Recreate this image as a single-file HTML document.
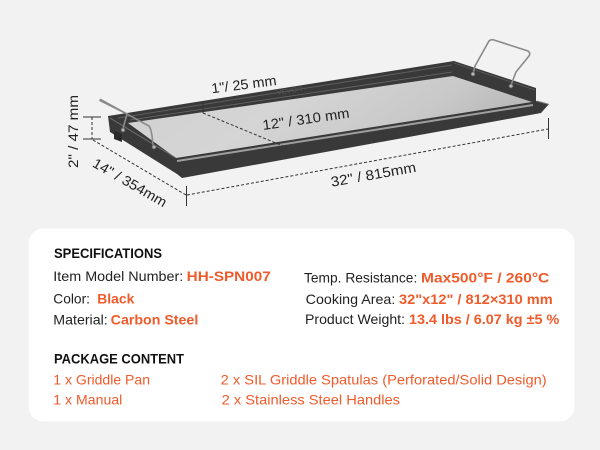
<!DOCTYPE html>
<html><head><meta charset="utf-8"><style>
html,body{margin:0;padding:0;width:600px;height:450px;overflow:hidden;background:#f2f2f2}
svg{display:block}
text{font-family:"Liberation Sans",Arial,sans-serif}
</style></head><body>
<svg width="600" height="450" viewBox="0 0 600 450" xmlns="http://www.w3.org/2000/svg">
<defs>
<linearGradient id="surf" x1="0" y1="0" x2="1" y2="0.3">
 <stop offset="0" stop-color="#d0d0d0"/>
 <stop offset="0.45" stop-color="#d5d5d5"/>
 <stop offset="0.8" stop-color="#c8c8c8"/>
 <stop offset="1" stop-color="#b8b8b8"/>
</linearGradient>
</defs>
<rect width="600" height="450" fill="#f2f2f2"/>

<!-- pan body -->
<polygon points="108,116 454,61 536,88 536,101 549,104 541,113 182,178 177,174 110,132" fill="#393939"/>
<polygon points="114,131 122,134 122,142 114,139" fill="#2a2a2a"/>
<!-- inner surface -->
<polygon points="128,123 453,76 532,102 176,158" fill="url(#surf)"/>
<!-- rims -->
<line x1="177" y1="161" x2="533" y2="105" stroke="#9e9e9e" stroke-width="2"/>
<line x1="118" y1="118" x2="452" y2="65" stroke="#5e5e5e" stroke-width="1"/>
<line x1="130" y1="120" x2="452" y2="72" stroke="#6a6a6a" stroke-width="0.8"/>
<line x1="110" y1="118" x2="176" y2="158" stroke="#707070" stroke-width="1"/>
<line x1="537" y1="101" x2="548" y2="104" stroke="#8a8a8a" stroke-width="1"/>
<line x1="454" y1="63" x2="535" y2="90" stroke="#555" stroke-width="1"/>
<text transform="translate(277,95) rotate(-9)" font-size="7" fill="#555" textLength="26" lengthAdjust="spacingAndGlyphs">VEVOR</text>

<!-- handles -->
<g fill="none" stroke="#8a8a8a" stroke-width="1.6" stroke-linecap="round" stroke-linejoin="round">
<path d="M122.7,129.5 L127,114 L100,100.5"/>
<path d="M100.5,99.5 L149,126 Q152,130 153,146"/>
<path d="M473,74 L475,66 L489,41 Q491,39 494,40 L528,51 Q531,53 529,56 L516,72 L511,85"/>
</g>
<g fill="#b5b5b5" stroke="#555" stroke-width="0.8">
<circle cx="123" cy="130" r="2"/>
<circle cx="154" cy="147" r="2"/>
<circle cx="473" cy="74" r="2"/>
<circle cx="511" cy="86" r="2"/>
</g>

<!-- dimension lines -->
<g stroke="#333" stroke-width="1" fill="none">
<line x1="92" y1="117" x2="92" y2="139" stroke-dasharray="3,2"/>
<line x1="83" y1="117" x2="101" y2="117"/>
<line x1="83" y1="139" x2="101" y2="139"/>
<line x1="93" y1="140" x2="186" y2="195" stroke-dasharray="3,2"/>
<line x1="186.5" y1="186" x2="186.5" y2="206"/>
<line x1="187" y1="195" x2="548" y2="129" stroke-dasharray="3,2"/>
<line x1="548.5" y1="118" x2="548.5" y2="139"/>
<line x1="203" y1="102" x2="203" y2="113"/>
<line x1="203" y1="113" x2="283" y2="146" stroke-dasharray="3,2"/>
</g>

<!-- dimension labels -->
<g font-size="14" fill="#222">
<text transform="translate(78,168) rotate(-90)" textLength="73" lengthAdjust="spacingAndGlyphs">2&quot; / 47 mm</text>
<text transform="translate(91.5,166) rotate(30)" textLength="83" lengthAdjust="spacingAndGlyphs">14&quot; / 354mm</text>
<text transform="translate(212,93.3) rotate(-7.3)" textLength="65.5" lengthAdjust="spacingAndGlyphs">1&quot;/ 25 mm</text>
<text transform="translate(263.3,130) rotate(-8.2)" textLength="87.6" lengthAdjust="spacingAndGlyphs">12&quot; / 310 mm</text>
<text transform="translate(331.7,186.7) rotate(-10)" textLength="86.3" lengthAdjust="spacingAndGlyphs">32&quot; / 815mm</text>
</g>

<!-- card -->
<rect x="28.5" y="228.5" width="546" height="193" rx="15" ry="15" fill="#ffffff"/>

<g font-size="14">
<text x="54" y="258" font-weight="bold" fill="#111" textLength="108" lengthAdjust="spacingAndGlyphs">SPECIFICATIONS</text>

<text x="53.3" y="281" fill="#222" textLength="130" lengthAdjust="spacingAndGlyphs">Item Model Number:</text>
<text x="186.7" y="281" font-weight="bold" fill="#ef5b2b" textLength="84" lengthAdjust="spacingAndGlyphs">HH-SPN007</text>

<text x="53.3" y="303.3" fill="#222" textLength="36.7" lengthAdjust="spacingAndGlyphs">Color:</text>
<text x="97.3" y="303.3" font-weight="bold" fill="#ef5b2b" textLength="37" lengthAdjust="spacingAndGlyphs">Black</text>

<text x="53.3" y="324.3" fill="#222" textLength="54.4" lengthAdjust="spacingAndGlyphs">Material:</text>
<text x="110.7" y="324.3" font-weight="bold" fill="#ef5b2b" textLength="87.6" lengthAdjust="spacingAndGlyphs">Carbon Steel</text>

<text x="304" y="282.3" fill="#222" textLength="113.3" lengthAdjust="spacingAndGlyphs">Temp. Resistance:</text>
<text x="421" y="282.3" font-weight="bold" fill="#ef5b2b" textLength="128.3" lengthAdjust="spacingAndGlyphs">Max500°F / 260°C</text>

<text x="305.7" y="304" fill="#222" textLength="89.6" lengthAdjust="spacingAndGlyphs">Cooking Area:</text>
<text x="399" y="304" font-weight="bold" fill="#ef5b2b" textLength="153.7" lengthAdjust="spacingAndGlyphs">32&quot;x12&quot; / 812×310 mm</text>

<text x="305" y="324" fill="#222" textLength="100" lengthAdjust="spacingAndGlyphs">Product Weight:</text>
<text x="409" y="324" font-weight="bold" fill="#ef5b2b" textLength="150.3" lengthAdjust="spacingAndGlyphs">13.4 lbs / 6.07 kg ±5 %</text>

<text x="54" y="363.3" font-weight="bold" fill="#111" textLength="130" lengthAdjust="spacingAndGlyphs">PACKAGE CONTENT</text>

<text x="53.3" y="384.3" fill="#ef5b2b" textLength="96.7" lengthAdjust="spacingAndGlyphs">1 x Griddle Pan</text>
<text x="220.7" y="384.3" fill="#ef5b2b" textLength="326" lengthAdjust="spacingAndGlyphs">2 x SIL Griddle Spatulas (Perforated/Solid Design)</text>
<text x="53.3" y="404.3" fill="#ef5b2b" textLength="69" lengthAdjust="spacingAndGlyphs">1 x Manual</text>
<text x="221.7" y="404.3" fill="#ef5b2b" textLength="178.3" lengthAdjust="spacingAndGlyphs">2 x Stainless Steel Handles</text>
</g>
</svg>
</body></html>
